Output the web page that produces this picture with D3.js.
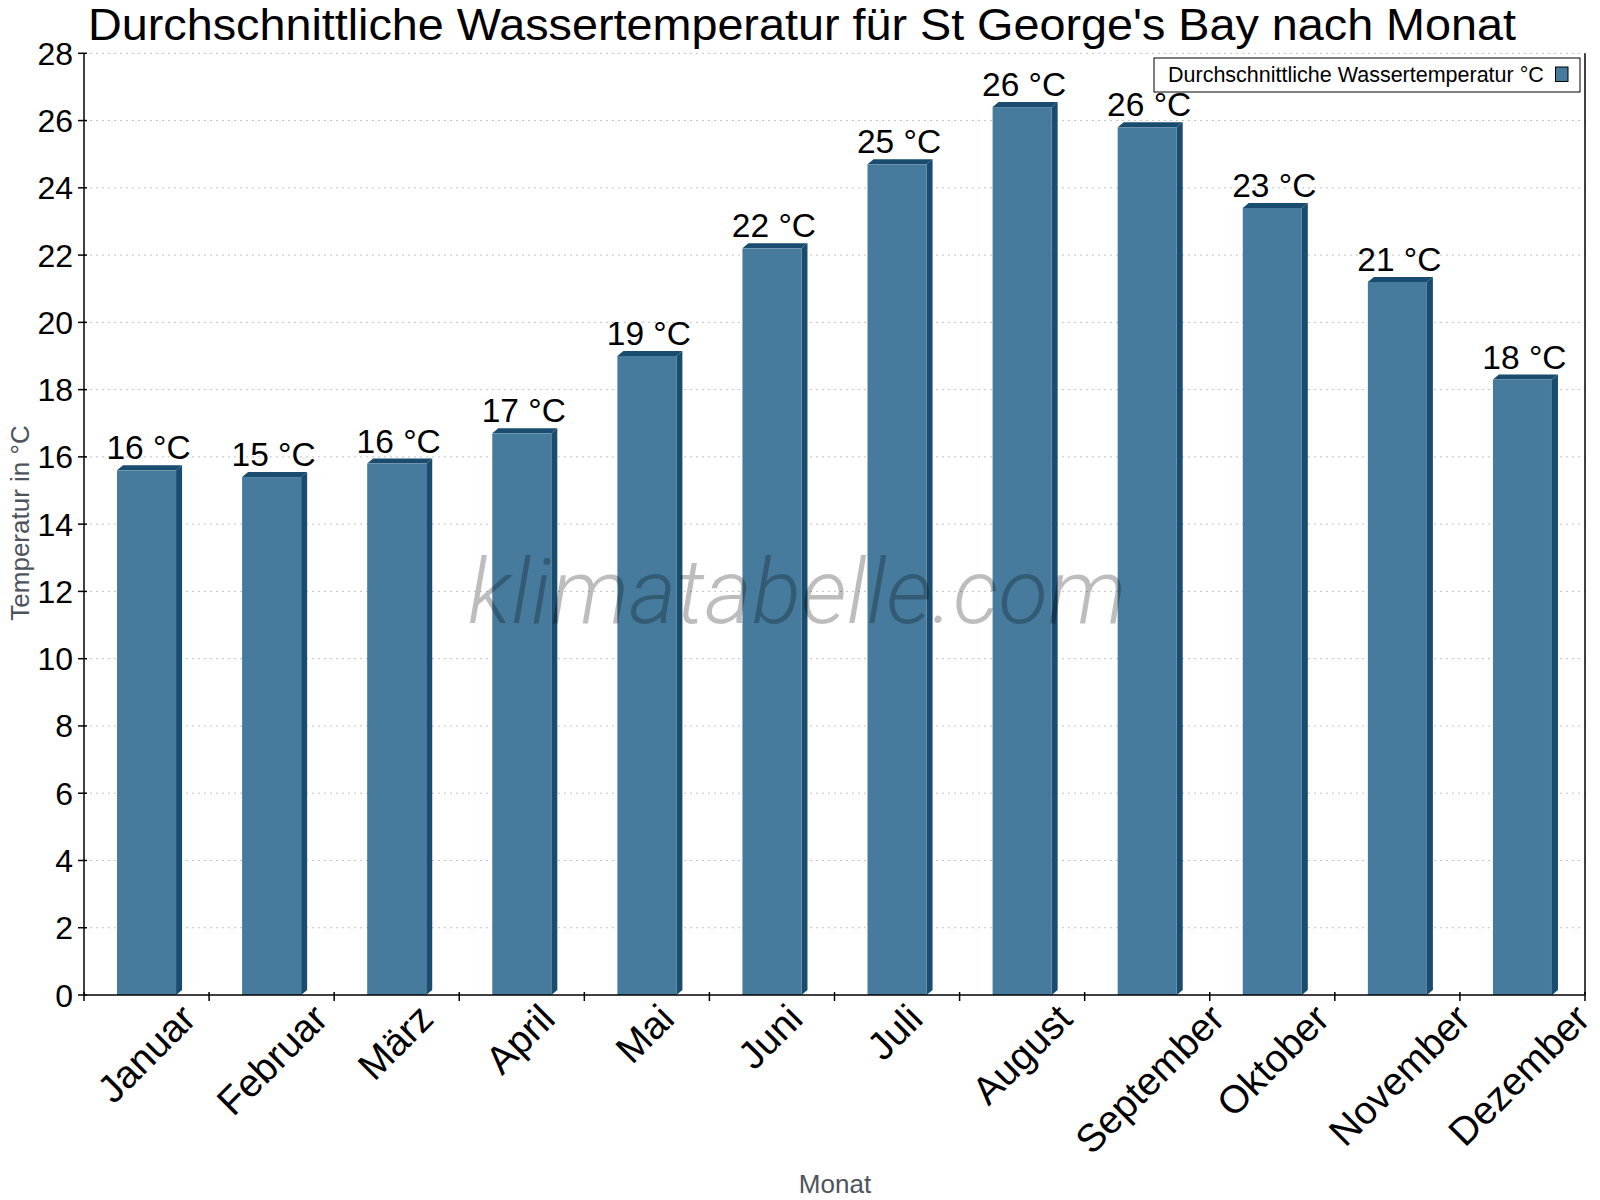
<!DOCTYPE html>
<html>
<head>
<meta charset="utf-8">
<script src="https://cdn.jsdelivr.net/npm/d3@7/dist/d3.min.js"></script>
<style>
  html, body { margin: 0; padding: 0; background: #fff; }
  svg { display: block; }
</style>
</head>
<body>
<script>
const months = ["Januar","Februar","März","April","Mai","Juni","Juli","August","September","Oktober","November","Dezember"];
const waterTemp = [15.6, 15.4, 15.8, 16.7, 19.0, 22.2, 24.7, 26.4, 25.8, 23.4, 21.2, 18.3];
const yTicks = [0,2,4,6,8,10,12,14,16,18,20,22,24,26,28];
const titleText = "Durchschnittliche Wassertemperatur für St George's Bay nach Monat";
const legendText = "Durchschnittliche Wassertemperatur °C";
const yTitle = "Temperatur in °C";
const xTitle = "Monat";
const watermark = "klimatabelle.com";

const W = 1600, H = 1200;
const m = {left: 84, right: 1585, top: 53.3, bottom: 995};
const front = "#467b9d", dark = "#194c6e";
const font = "'Liberation Sans', Arial, sans-serif";

const svg = d3.select("body").append("svg").attr("width", W).attr("height", H);

const x = d3.scaleBand().domain(months).range([m.left, m.right]).paddingInner(0).paddingOuter(0);
const y = d3.scaleLinear().domain([0, 28]).range([m.bottom, m.top]);

// grid
svg.append("g").selectAll("line").data(yTicks.filter(t => t > 0)).join("line")
  .attr("x1", m.left).attr("x2", m.right)
  .attr("y1", d => y(d)).attr("y2", d => y(d))
  .attr("stroke", "#c4c4c4").attr("stroke-width", 1).attr("stroke-dasharray", "2,4");

// bars (3D)
const barW = x.bandwidth() * 0.472;
const dx = 6, dy = 5;
const bars = svg.append("g");
months.forEach((mo, i) => {
  const c = x(mo) + x.bandwidth() / 2;
  const x0 = c - barW / 2, x1 = c + barW / 2;
  const yt = y(waterTemp[i]), yb = y(0);
  bars.append("polygon")
    .attr("points", [[x1, yt], [x1 + dx, yt - dy], [x1 + dx, yb - dy], [x1, yb]].map(p => p.join(",")).join(" "))
    .attr("fill", dark);
  bars.append("polygon")
    .attr("points", [[x0, yt], [x0 + dx, yt - dy], [x1 + dx, yt - dy], [x1, yt]].map(p => p.join(",")).join(" "))
    .attr("fill", dark);
  bars.append("rect").attr("x", x0).attr("y", yt).attr("width", barW).attr("height", yb - yt).attr("fill", front);
});

// watermark
svg.append("text").attr("x", 797).attr("y", 623).attr("text-anchor", "middle")
  .attr("font-family", "Roboto, sans-serif").attr("font-weight", 300).attr("font-style", "italic")
  .attr("font-size", 91).attr("fill", "rgba(0,0,0,0.26)").text(watermark);

// data labels
svg.append("g").selectAll("text").data(waterTemp).join("text")
  .attr("x", (d, i) => x(months[i]) + x.bandwidth() / 2 + 2)
  .attr("y", d => y(d) - 11)
  .attr("text-anchor", "middle").attr("font-family", font).attr("font-size", 33.5).attr("fill", "#000")
  .text(d => Math.round(d) + " °C");

// axes lines
const ax = svg.append("g").attr("stroke", "#000").attr("stroke-width", 1.5);
ax.append("line").attr("x1", m.left).attr("x2", m.left).attr("y1", m.top).attr("y2", m.bottom);
ax.append("line").attr("x1", m.right).attr("x2", m.right).attr("y1", m.top).attr("y2", m.bottom);
ax.append("line").attr("x1", m.left).attr("x2", m.right).attr("y1", m.bottom).attr("y2", m.bottom);

// y ticks
const yAxis = svg.append("g");
yAxis.selectAll("line").data(yTicks).join("line")
  .attr("x1", m.left - 6).attr("x2", m.left + 3)
  .attr("y1", d => y(d)).attr("y2", d => y(d))
  .attr("stroke", "#000").attr("stroke-width", 1.5);
yAxis.selectAll("text").data(yTicks).join("text")
  .attr("x", m.left - 11).attr("y", d => y(d) + 11.5)
  .attr("text-anchor", "end").attr("font-family", font).attr("font-size", 32).attr("fill", "#000")
  .text(d => d);

// x ticks at band boundaries
const bounds = months.map(mo => x(mo)).concat([m.right]);
svg.append("g").selectAll("line").data(bounds).join("line")
  .attr("x1", d => d).attr("x2", d => d)
  .attr("y1", m.bottom - 3).attr("y2", m.bottom + 6)
  .attr("stroke", "#000").attr("stroke-width", 1.5);

// x labels rotated
const xl = svg.append("g");
months.forEach(mo => {
  const c = x(mo) + x.bandwidth() / 2;
  const t = xl.append("text").attr("font-family", font).attr("font-size", 39).attr("fill", "#000")
    .attr("text-anchor", "end").text(mo);
  const w = t.node().getComputedTextLength();
  const axp = Math.min(c + 5 + 0.39 * w, 1592), ayp = 1021;
  t.attr("transform", `translate(${axp},${ayp}) rotate(-45)`);
});

// axis titles
svg.append("text").attr("transform", "translate(29,523) rotate(-90)").attr("text-anchor", "middle")
  .attr("font-family", font).attr("font-size", 26).attr("fill", "#4d545b").text(yTitle);
svg.append("text").attr("x", 835).attr("y", 1193).attr("text-anchor", "middle")
  .attr("font-family", font).attr("font-size", 26).attr("fill", "#4d545b").text(xTitle);

// title
svg.append("text").attr("x", 88).attr("y", 40).attr("font-family", font).attr("font-size", 44)
  .attr("textLength", 1428).attr("lengthAdjust", "spacingAndGlyphs")
  .attr("fill", "#000").text(titleText);

// legend
const lg = svg.append("g");
lg.append("rect").attr("x", 1154).attr("y", 58).attr("width", 426).attr("height", 34)
  .attr("fill", "#fff").attr("stroke", "#000").attr("stroke-width", 1);
lg.append("text").attr("x", 1168).attr("y", 82).attr("font-family", font).attr("font-size", 21.5)
  .attr("fill", "#000").text(legendText);
lg.append("rect").attr("x", 1555.5).attr("y", 67).attr("width", 12.5).attr("height", 14.5)
  .attr("fill", front).attr("stroke", "#000").attr("stroke-width", 1);
</script>
</body>
</html>
